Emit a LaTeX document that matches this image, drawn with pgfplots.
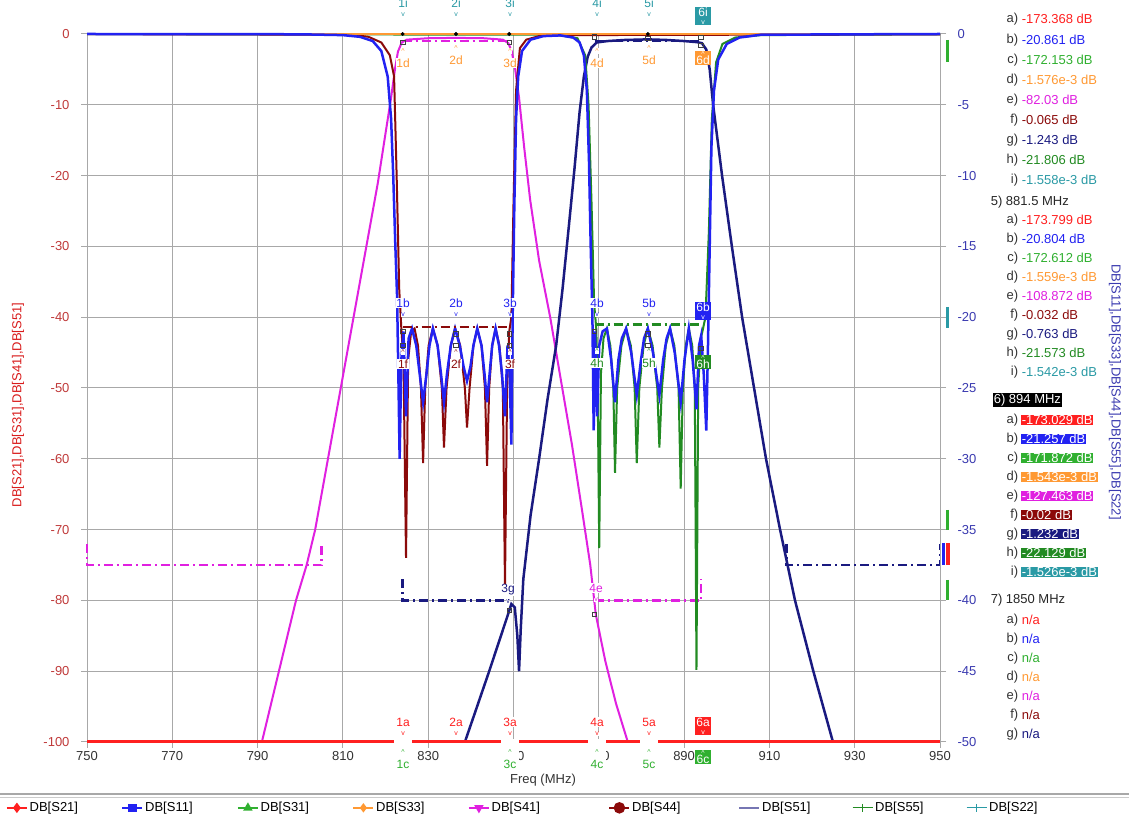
\documentclass[border=0pt]{standalone}
\usepackage{pgfplots}
\pgfplotsset{compat=1.18}
\usepackage{fontspec}
\setmainfont{Liberation Sans}
\definecolor{cS21}{HTML}{FF2020}
\definecolor{cS11}{HTML}{2222F2}
\definecolor{cS31}{HTML}{30B030}
\definecolor{cS33}{HTML}{FF9933}
\definecolor{cS41}{HTML}{E020E0}
\definecolor{cS44}{HTML}{8B0A0A}
\definecolor{cS51}{HTML}{1A1A80}
\definecolor{cS55}{HTML}{228B22}
\definecolor{cS22}{HTML}{2A9AA5}
\definecolor{gridc}{HTML}{A8A8A8}
\definecolor{lefttick}{HTML}{C03A3A}
\definecolor{righttick}{HTML}{3A3AB0}
\tikzset{
  mask/.style={line width=2.5bp, dash pattern=on 9bp off 4bp on 2bp off 4bp},
  mlab/.style={font=\fontsize{12bp}{13bp}\selectfont, fill=white, inner sep=0.6bp},
  arr/.style={font=\fontsize{7bp}{8bp}\selectfont, fill=white, inner sep=0.3bp},
  pan/.style={font=\fontsize{13bp}{15bp}\selectfont, inner sep=0.6bp},
}
\newcommand{\dl}[4]{\node[mlab,text=#4] at (#1,823-#2) {#3}; \node[arr,text=#4] at (#1,823-#2-12) {v};}
\newcommand{\ul}[4]{\node[arr,text=#4] at (#1,823-#2+12) {\textasciicircum}; \node[mlab,text=#4] at (#1,823-#2) {#3};}
\newcommand{\bxd}[4]{\node[fill=#4,text=white,align=center,inner sep=1bp,minimum width=16bp,font=\fontsize{12bp}{11bp}\selectfont] at (#1,823-#2) {#3\\[-3bp]{\fontsize{7bp}{7bp}\selectfont v}};}
\newcommand{\bxu}[4]{\node[fill=#4,text=white,align=center,inner sep=1bp,minimum width=16bp,font=\fontsize{12bp}{11bp}\selectfont] at (#1,823-#2) {{\fontsize{7bp}{7bp}\selectfont\textasciicircum}\\[-3bp]#3};}
\newcommand{\pv}[4]{\node[pan,anchor=east,text=black!80] at (1019,823-#1) {#2)}; \node[pan,anchor=west,text=#4] at (1021,823-#1) {#3};}
\newcommand{\pvb}[4]{\node[pan,anchor=east,text=black!80] at (1019,823-#1) {#2)}; \node[pan,anchor=west,text=white,fill=#4] at (1021,823-#1) {#3};}
\begin{document}
\begin{tikzpicture}[x=1bp,y=1bp,font=\fontsize{13bp}{15bp}\selectfont]
\useasboundingbox (0,0) rectangle (1129,823);
\fill[white] (0,0) rectangle (1129,823);
\begin{axis}[
  at={(87bp,81bp)}, anchor=south west,
  scale only axis, width=853bp, height=708bp,
  xmin=750, xmax=950, ymin=-100, ymax=0,
  clip=false,
  xtick={750,770,...,950},
  xticklabels={750,770,790,810,830,850,870,890,910,930,950},
  ytick={-100,-90,...,0},
  yticklabels={-100,-90,-80,-70,-60,-50,-40,-30,-20,-10,0},
  grid=major, grid style={gridc, line width=1bp},
  axis line style={gridc, line width=1bp},
  tick style={gridc, line width=1bp}, tick align=outside, major tick length=6bp,
  xtick pos=bottom, ytick pos=left,
  tick label style={font=\fontsize{13bp}{15bp}\selectfont},
  yticklabel style={text=lefttick, xshift=-8bp},
  xticklabel style={text=black!80},
  legend columns=9,
  legend cell align=left,
  legend style={at={(-0.0985,-0.093)}, anchor=west, draw=none, fill=none,
    font=\fontsize{13bp}{15bp}\selectfont, nodes={inner sep=2bp},
    /tikz/every even column/.append style={column sep=0pt}},
  legend image code/.code={\draw[mark repeat=2,mark phase=2,#1] plot coordinates {(0bp,0bp)(10bp,0bp)(20bp,0bp)};},
]
\addlegendimage{cS21, line width=1.5bp, mark=diamond*, mark size=4bp}
\addlegendentry{\makebox[90bp][l]{DB[S21]}}
\addlegendimage{cS11, line width=1.5bp, mark=square*, mark size=3.5bp}
\addlegendentry{\makebox[90bp][l]{DB[S11]}}
\addlegendimage{cS31, line width=1.5bp, mark=triangle*, mark size=4bp}
\addlegendentry{\makebox[90bp][l]{DB[S31]}}
\addlegendimage{cS33, line width=1.5bp, mark=diamond*, mark size=3.5bp}
\addlegendentry{\makebox[90bp][l]{DB[S33]}}
\addlegendimage{cS41, line width=1.5bp, mark=triangle*, mark size=4bp, mark options={rotate=180}}
\addlegendentry{\makebox[115bp][l]{DB[S41]}}
\addlegendimage{cS44, line width=1.5bp, mark=*, mark size=5bp}
\addlegendentry{\makebox[104bp][l]{DB[S44]}}
\addlegendimage{cS51!60, line width=2bp}
\addlegendentry{\makebox[88bp][l]{DB[S51]}}
\addlegendimage{cS55, line width=1bp, mark=+, mark size=4bp}
\addlegendentry{\makebox[89bp][l]{DB[S55]}}
\addlegendimage{cS22, line width=1bp, mark=+, mark size=4bp}
\addlegendentry{\makebox[90bp][l]{DB[S22]}}
% S31
\addplot[forget plot, cS31, line width=3bp] coordinates {(750,-100)(950,-100)};
% S41
\addplot[forget plot, cS41, line width=2bp] coordinates {
(791,-100)(795,-90)(799,-80)(801.5,-75)(803.5,-70)(806.5,-60)(809.5,-50)(812.5,-40)(815.5,-30)(818.2,-21)(820,-14)(821.3,-9)(822.2,-5)(822.9,-2.5)(823.8,-1.2)(825,-0.8)(830,-0.6)(836.5,-0.55)(843,-0.6)(847.5,-0.8)(848.8,-1.3)(849.6,-2.5)(850.4,-5)(851.3,-9)(852.5,-16)(853.9,-23.4)(856,-32)(858.6,-40)(861,-48.5)(863.7,-58)(866,-67)(868,-75)(869.3,-82)(871.5,-88.5)(874,-94.5)(876.8,-100)};
% S51
\addplot[forget plot, cS51, line width=2.5bp] coordinates {
(838.6,-100)(841,-95.8)(844.3,-90)(846.5,-86)(848.7,-82)(849.5,-80.5)(850.3,-81)(850.9,-85)(851.3,-90)(851.7,-84)(852.3,-77)(854,-68)(856,-60)(858,-51.5)(860,-44)(861.5,-36)(863,-27)(864.3,-19)(865.5,-11)(866.5,-6)(867.4,-3.2)(868.3,-1.9)(869.5,-1.2)(872,-1.0)(876,-0.85)(881.5,-0.76)(886,-0.85)(890,-1.0)(893,-1.15)(894.2,-1.3)(895.2,-2.2)(896,-5)(896.8,-10)(898.9,-20)(901.2,-30)(903.6,-40)(906.4,-50)(909.2,-60)(912.5,-70)(916,-80)(920.3,-90)(924.9,-100)};
% masks
\addplot[forget plot, cS41, mask] coordinates {(750,-72)(750,-75)(805,-75)(805,-72)};
\addplot[forget plot, cS41, mask] coordinates {(824,-1)(849,-1)};
\addplot[forget plot, cS41, mask] coordinates {(869,-80)(894,-80)(894,-77)};
\addplot[forget plot, cS51, mask] coordinates {(824,-77)(824,-80)(849,-80)};
\addplot[forget plot, cS51, mask] coordinates {(869,-1)(894,-1)};
\addplot[forget plot, cS51, mask] coordinates {(914,-72)(914,-75)(950,-75)(950,-72)};
% S21
\addplot[forget plot, cS21, line width=3bp] coordinates {(750,-100)(950,-100)};
\end{axis}
\begin{axis}[
  at={(87bp,81bp)}, anchor=south west,
  scale only axis, width=853bp, height=708bp,
  xmin=750, xmax=950, ymin=-50, ymax=0,
  clip=false,
  axis x line=none, axis y line*=right,
  ytick={-50,-45,...,0},
  yticklabels={-50,-45,-40,-35,-30,-25,-20,-15,-10,-5,0},
  axis line style={gridc, line width=1bp},
  tick style={gridc, line width=1bp}, tick align=outside, major tick length=6bp,
  tick label style={font=\fontsize{13bp}{15bp}\selectfont},
  yticklabel style={text=righttick, xshift=8bp},
]
% S22
\addplot[cS22, line width=2bp] coordinates {(750,0)(950,0)};
% S55
\addplot[cS55, line width=2bp] coordinates {
(750,-0.01)(860,-0.05)(865,-0.3)(866.8,-1.5)(867.6,-5)(868.3,-12)(868.9,-19)(869.4,-20.8)(869.7,-24)(870.1,-36.3)(870.5,-24)(871.1,-21.5)(871.9,-20.8)(872.7,-22)(873.4,-25)(873.8,-31)(874.3,-25)(875.3,-22)(876.4,-20.8)(877.5,-22)(878.4,-25)(878.9,-30.3)(879.5,-25)(880.5,-22)(881.5,-20.8)(882.6,-22)(883.7,-25)(884.2,-29.2)(884.8,-25)(885.7,-22)(886.7,-20.8)(887.7,-22)(888.7,-25)(889.2,-32.1)(889.7,-25)(890.4,-22)(891.1,-20.8)(891.9,-22)(892.5,-25)(892.9,-44.9)(893.3,-25)(893.9,-21.5)(894.3,-21)(895,-20)(895.8,-14)(896.5,-6)(897.5,-2)(899,-0.7)(902,-0.25)(908,-0.08)(950,-0.02)};
% S44
\addplot[cS44, line width=2bp] coordinates {
(750,-0.01)(812,-0.05)(816,-0.2)(819,-0.6)(821,-1.5)(822,-3)(822.6,-10)(823.2,-18)(823.7,-20.8)(824.2,-23)(824.8,-37)(825.3,-23)(826,-21)(826.8,-20.8)(827.6,-22)(828.3,-25)(828.8,-30.3)(829.3,-25)(830.1,-22)(831.1,-20.8)(832.2,-22)(833.2,-25)(833.7,-29.2)(834.3,-25)(835.3,-22)(836.3,-20.8)(837.5,-22)(838.6,-25)(839.1,-27.8)(839.7,-25)(840.6,-22)(841.5,-20.8)(842.5,-22)(843.3,-25)(843.8,-30.5)(844.3,-25)(845,-22)(845.8,-20.8)(846.7,-22)(847.5,-25)(848,-39)(848.5,-25)(849,-21)(849.5,-20)(850,-12)(850.6,-4)(851.5,-1)(853,-0.4)(856,-0.15)(862,-0.08)(950,-0.02)};
% S33
\addplot[cS33, line width=2.5bp] coordinates {(750,0)(950,0)};
% S11
\addplot[cS11, line width=2.5bp] coordinates {
(750,0)(800,-0.02)(810,-0.08)(814,-0.2)(817,-0.5)(819,-1.2)(820.5,-3)(821.3,-6)(821.8,-10)(822.3,-15)(822.7,-18.5)(823,-24)(823.3,-30)(823.7,-23)(824.2,-21)(824.8,-27)(825.4,-21.5)(826.2,-20.8)(827.2,-22)(828,-24)(828.8,-26)(829.6,-24)(830.3,-22)(831.1,-20.8)(832.2,-22)(833,-24)(833.7,-26)(834.4,-24)(835.3,-22)(836.3,-20.8)(837.4,-22)(838.3,-23.5)(839.1,-24.5)(839.9,-23.5)(840.6,-22)(841.5,-20.8)(842.5,-22)(843.2,-24)(843.8,-26)(844.4,-24)(845,-22)(845.8,-20.8)(846.6,-22)(847.3,-24)(848,-27)(848.6,-22)(849.1,-24)(849.5,-29)(849.8,-20)(850.2,-12)(850.6,-6)(851.1,-3)(852,-1.2)(854,-0.4)(857,-0.15)(861,-0.1)(864,-0.25)(865.5,-0.6)(866.5,-1.5)(867.2,-4)(867.7,-9)(868.1,-15)(868.5,-20)(868.8,-28)(869.1,-21)(869.6,-27)(870.1,-22)(870.9,-21)(871.9,-20.8)(872.9,-23)(873.8,-26)(874.6,-23)(875.4,-21.5)(876.4,-20.8)(877.6,-22.5)(878.9,-25.5)(879.9,-23)(880.6,-21.5)(881.5,-20.8)(882.7,-22.5)(884.2,-25.5)(885.1,-23)(885.9,-21.5)(886.7,-20.8)(887.8,-22.5)(889.2,-26)(890.1,-23)(891.1,-20.8)(892,-23)(892.9,-26.5)(893.5,-22)(894,-21.3)(894.6,-24)(895.2,-28)(895.6,-22)(896,-15)(896.4,-8)(897,-4)(898,-1.8)(900,-0.7)(903,-0.25)(908,-0.05)(950,0)};
% masks right
\addplot[cS44, mask] coordinates {(824,-20.7)(849,-20.7)};
\addplot[cS55, mask] coordinates {(869,-20.5)(894,-20.5)};
% marker symbols
\addplot[only marks, mark=*, mark size=1.8bp, black] coordinates {(824,0)(836.5,0)(849,0)(881.5,0)};
\addplot[only marks, mark=square, mark size=2.3bp, black!75, mark options={line width=0.8bp}] coordinates {(824,-0.6)(849,-0.6)(869,-0.2)(881.5,-0.3)(894,-0.25)(894,-0.8)(824,-21)(824,-22)(836.5,-21.2)(836.5,-22)(849,-21.2)(849,-22)(869,-21)(881.5,-21.2)(881.5,-22)(894,-22.2)(849,-40.7)(869,-41)};
\end{axis}
% right-edge limit bars
\draw[cS31, line width=3bp] (947,823-40) -- (947,823-62);
\draw[cS22, line width=3bp] (947,823-307) -- (947,823-328);
\draw[cS31, line width=3bp] (947,823-510) -- (947,823-530);
\draw[cS11, line width=3bp] (943,823-543) -- (943,823-565);
\draw[cS21, line width=3.5bp] (948,823-543) -- (948,823-565);
\draw[cS31, line width=3bp] (947,823-580) -- (947,823-600);
% bottom covers for c labels
\foreach \mx in {403,510,597,649} {\fill[white] (\mx-9,823-739) rectangle (\mx+9,823-773);}
% marker labels
\foreach \mx/\mt in {403/1i,456/2i,510/3i,597/4i,649/5i} {\dl{\mx}{3}{\mt}{cS22}}
\foreach \mx/\mt in {403/1d,510/3d,597/4d} {\ul{\mx}{63}{\mt}{cS33}}
\foreach \mx/\mt in {456/2d,649/5d} {\ul{\mx}{60}{\mt}{cS33}}
\foreach \mx/\mt in {403/1b,456/2b,510/3b,597/4b,649/5b} {\dl{\mx}{303}{\mt}{cS11}}
\foreach \mx/\mt in {403/1f,456/2f,510/3f} {\ul{\mx}{364}{\mt}{cS44}}
\foreach \mx/\mt in {597/4h,649/5h} {\ul{\mx}{363}{\mt}{cS55}}
\dl{508}{590}{3g}{cS51}
\dl{596}{588}{4e}{cS41}
\foreach \mx/\mt in {403/1a,456/2a,510/3a,597/4a,649/5a} {\dl{\mx}{722}{\mt}{cS21}}
\foreach \mx/\mt in {403/1c,510/3c,597/4c,649/5c} {\ul{\mx}{764}{\mt}{cS31}}
\bxd{703}{16}{6i}{cS22}
\bxu{703}{58}{6d}{cS33}
\bxd{703}{311}{6b}{cS11}
\bxu{703}{362}{6h}{cS55}
\bxd{703}{726}{6a}{cS21}
\bxu{703}{757}{6c}{cS31}
% axis labels
\node[rotate=90, text=cS21!85!black] at (18,823-405) {DB[S21],DB[S31],DB[S41],DB[S51]};
\node[rotate=-90, text=righttick] at (1115,823-392) {DB[S11],DB[S33],DB[S44],DB[S55],DB[S22]};
\node[text=black!80] at (543,823-780) {Freq (MHz)};
% separator
\draw[gridc, line width=1.2bp] (0,823-794) -- (1129,823-794);
\draw[gridc!60, line width=1bp] (0,823-797.5) -- (1129,823-797.5);
% marker panel
\pv{19}{a}{-173.368 dB}{cS21}
\pv{40}{b}{-20.861 dB}{cS11}
\pv{60}{c}{-172.153 dB}{cS31}
\pv{80}{d}{-1.576e-3 dB}{cS33}
\pv{100}{e}{-82.03 dB}{cS41}
\pv{120}{f}{-0.065 dB}{cS44}
\pv{140}{g}{-1.243 dB}{cS51}
\pv{160}{h}{-21.806 dB}{cS55}
\pv{180}{i}{-1.558e-3 dB}{cS22}
\node[pan,anchor=west,text=black!85] at (990,823-202) {5) 881.5 MHz};
\pv{220}{a}{-173.799 dB}{cS21}
\pv{239}{b}{-20.804 dB}{cS11}
\pv{258}{c}{-172.612 dB}{cS31}
\pv{277}{d}{-1.559e-3 dB}{cS33}
\pv{296}{e}{-108.872 dB}{cS41}
\pv{315}{f}{-0.032 dB}{cS44}
\pv{334}{g}{-0.763 dB}{cS51}
\pv{353}{h}{-21.573 dB}{cS55}
\pv{372}{i}{-1.542e-3 dB}{cS22}
\node[pan,anchor=west,text=white,fill=black] at (993,823-400) {6) 894 MHz};
\pvb{420}{a}{-173.029 dB}{cS21}
\pvb{439}{b}{-21.257 dB}{cS11}
\pvb{458}{c}{-171.872 dB}{cS31}
\pvb{477}{d}{-1.543e-3 dB}{cS33}
\pvb{496}{e}{-127.463 dB}{cS41}
\pvb{515}{f}{-0.02 dB}{cS44}
\pvb{534}{g}{-1.232 dB}{cS51}
\pvb{553}{h}{-22.129 dB}{cS55}
\pvb{572}{i}{-1.526e-3 dB}{cS22}
\node[pan,anchor=west,text=black!85] at (990,823-600) {7) 1850 MHz};
\pv{620}{a}{n/a}{cS21}
\pv{639}{b}{n/a}{cS11}
\pv{658}{c}{n/a}{cS31}
\pv{677}{d}{n/a}{cS33}
\pv{696}{e}{n/a}{cS41}
\pv{715}{f}{n/a}{cS44}
\pv{734}{g}{n/a}{cS51}
\end{tikzpicture}
\end{document}
